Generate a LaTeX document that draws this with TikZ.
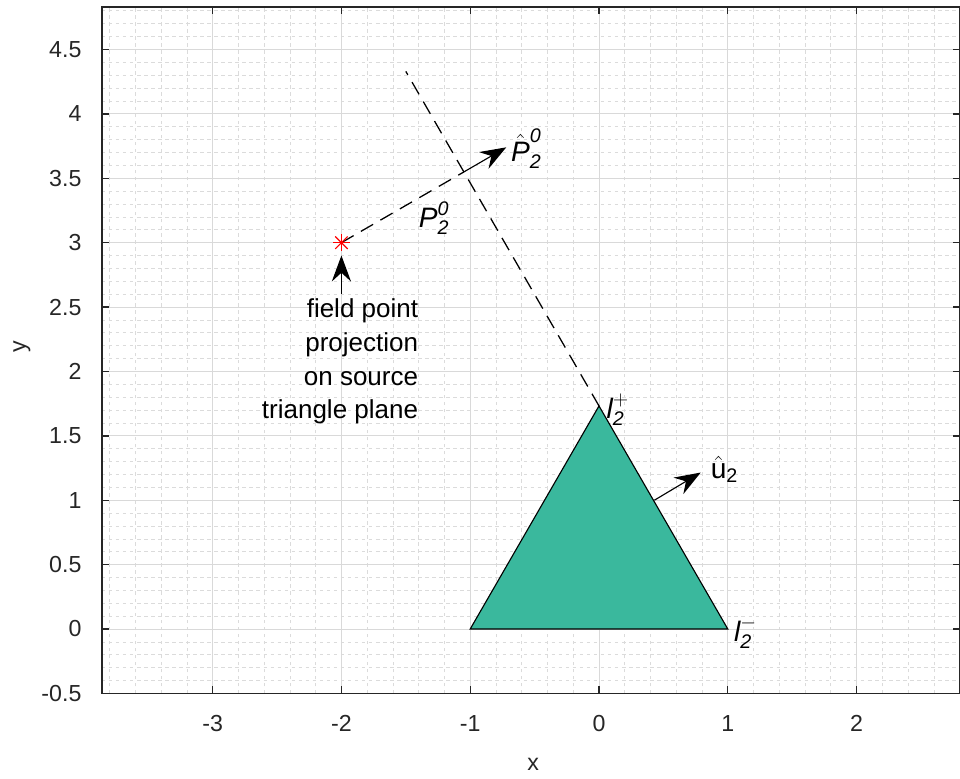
\documentclass[tikz,border=0pt]{standalone}
\usepackage{amsmath}
\usepackage{fontspec}
\setmainfont{Liberation Sans}
\usetikzlibrary{arrows.meta}
\definecolor{trifill}{RGB}{58,184,157}
\definecolor{axisgray}{RGB}{38,38,38}
\tikzset{
  ticklab/.style={font=\fontsize{16.5}{20}\selectfont, text=axisgray},
  annot/.style={font=\fontsize{18.5}{24}\selectfont},
  mathlab/.style={font=\fontsize{20}{24}\selectfont},
  majorgrid/.style={gray!30, line width=0.5pt},
  minorgrid/.style={gray!28, line width=0.5pt, dash pattern=on 2.5pt off 2.5pt},
  dashline/.style={line width=0.9pt, dash pattern=on 10pt off 6pt},
  headarrow/.style={line width=0.8pt, -{Stealth[length=6.5mm, width=4.8mm, inset=2.2mm]}}
}
\begin{document}
\begin{tikzpicture}[x=3.22cm, y=3.22cm]
    \useasboundingbox (-4.651,-1.157) rectangle (2.803,4.884);
    % grid
    \foreach \i in {-19,...,14} \draw[minorgrid] (\i/5,-0.5) -- (\i/5,4.83);
    \foreach \j in {-5,...,48} \draw[minorgrid] (-3.86,\j/10) -- (2.8,\j/10);
    \foreach \x in {-3,...,2} \draw[majorgrid] (\x,-0.5) -- (\x,4.83);
    \foreach \j in {-1,...,9} \draw[majorgrid] (-3.86,\j/2) -- (2.8,\j/2);
    % axes box and ticks
    \draw[axisgray, line width=1pt] (-3.86,-0.5) rectangle (2.8,4.83);
    \foreach \x in {-3,...,2} {
        \draw[axisgray, line width=1pt] (\x,-0.5) -- ++(0,0.055);
        \draw[axisgray, line width=1pt] (\x,4.83) -- ++(0,-0.055);
    }
    \foreach \j in {-1,...,9} {
        \draw[axisgray, line width=1pt] (-3.86,\j/2) -- ++(0.055,0);
        \draw[axisgray, line width=1pt] (2.8,\j/2) -- ++(-0.055,0);
    }
    % tick labels
    \foreach \x in {-3,...,2} \node[ticklab] (xt\x) at (\x,-0.73) {\x};
    \foreach \y [count=\k] in {-0.5,0,0.5,1,1.5,2,2.5,3,3.5,4,4.5}
        \node[ticklab, anchor=east] (yt\k) at (-3.98,\y) {\y};
    \node[ticklab] (xlab) at (-0.512,-1.05) {x};
    \node[ticklab, rotate=90] (ylab) at (-4.48,2.19) {y};
    % source triangle
    \coordinate (va) at (-1,0);
    \coordinate (vb) at (1,0);
    \coordinate (vc) at (0,1.732);
    \filldraw[fill=trifill, draw=black, line width=0.8pt] (va) -- (vb) -- (vc) -- cycle;
    % edge extension
    \coordinate (ext) at (-1.5,4.33);
    \draw[dashline] (vc) -- (ext);
    % field point and its projection
    \coordinate (fp) at (-2,3);
    \coordinate (foot) at (-1.049,3.549);
    \coordinate (ptip) at (-0.72,3.74);
    \draw[dashline] (fp) -- (foot);
    \draw[headarrow] (foot) -- (ptip);
    \foreach \a in {0,45,90,135}
        \draw[red, line width=0.8pt] (fp) ++(\a:0.22cm) -- ++(\a+180:0.44cm);
    % normal of edge 2
    \coordinate (ubase) at (0.43,1.0);
    \coordinate (utip) at (0.79,1.215);
    \draw[headarrow] (ubase) -- (utip);
    % pointer to field point
    \coordinate (upbase) at (-2,2.6);
    \coordinate (uptip) at (-2,2.9);
    \draw[headarrow] (upbase) -- (uptip);
    % labels
    \node[mathlab, anchor=west] (lplus) at (0.02,1.70) {$\textit{l}_{\textit{2}}^{+}$};
    \node[mathlab, anchor=west] (lminus) at (1.01,-0.03) {$\textit{l}_{\textit{2}}^{-}$};
    \node[mathlab, anchor=west] (uhat) at (0.83,1.24) {$\hat{\text{u}}_{\text{2}}$};
    \node[mathlab, anchor=west] (phat) at (-0.72,3.73) {$\hat{\textit{P}}_{\textit{2}}^{\textit{0}}$};
    \node[mathlab] (plab) at (-1.28,3.19) {$\textit{P}_{\textit{2}}^{\textit{0}}$};
    \node[annot, anchor=east, align=right] (fplabel) at (-1.366,2.077)
        {field point\\projection\\on source\\triangle plane};
\end{tikzpicture}
\end{document}
